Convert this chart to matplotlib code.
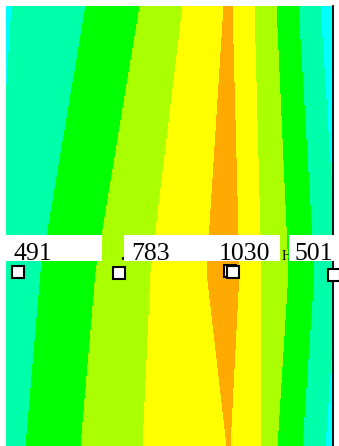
import numpy as np
import matplotlib.pyplot as plt
import matplotlib.tri as mtri
from matplotlib.patches import Rectangle

# contour bands
levels = [250, 400, 550, 700, 850, 1000, 1150]
band_colors = ["#00ffff", "#00ffaa", "#00ff00", "#aaff00", "#ffff00", "#ffaa00"]

# field samples read along three rows (map units = screen pixels)
row_y = [6, 272, 446]
top_x = [-40, 12, 86, 140, 183, 224, 228, 232, 254, 276, 298, 320, 380]
mid_x = [-40, -5, 41, 96, 151, 207, 233, 239, 261, 288, 314, 337, 380]
bot_x = [-40, -15, 26, 81, 143, 227, 228.5, 230, 260, 277, 302, 325, 380]
top_z = [300, 400, 550, 700, 850, 1000, 1020, 1000, 850, 700, 550, 400, 300]
mid_z = [300, 400, 550, 700, 850, 1000, 1030, 1000, 850, 700, 550, 400, 300]
bot_z = [300, 400, 550, 700, 850, 1000, 1005, 1000, 850, 700, 550, 400, 300]

# stations
station_x = [18, 119, 233, 334]
station_y = [272, 273, 272, 275]
station_val = [491, 783, 1030, 501]
hidden_x = [230]
hidden_y = [271]

# label placement
label_x = [13, 131, 219, 295]
box_left = [6, 124, 212, 289]
box_right = [102, 214, 280, 345]

fig = plt.figure(figsize=(3.39, 4.46), dpi=100)
ax = fig.add_axes([6 / 339, 0, 327 / 339, 440 / 446])

# build a row-by-row triangulation of the samples
n = len(top_x)
xs = np.concatenate([top_x, mid_x, bot_x]).astype(float)
ys = np.repeat(row_y, n).astype(float)
zs = np.concatenate([top_z, mid_z, bot_z]).astype(float)
tris = []
for r in range(2):
    for k in range(n - 1):
        a = r * n + k
        b = a + 1
        c = a + n
        d = c + 1
        tris += [[a, b, d], [a, d, c]]
triang = mtri.Triangulation(xs, ys, tris)
ax.tricontourf(triang, zs, levels=levels, colors=band_colors)

ax.set_xlim(6, 333)
ax.set_ylim(446, 6)
ax.set_xticks([])
ax.set_yticks([])
for side in ["top", "left", "bottom"]:
    ax.spines[side].set_visible(False)
ax.spines["right"].set_linewidth(1.3)
ax.spines["right"].set_color("black")

serif = "Liberation Serif"

# stray glyphs partly hidden by the label boxes
ax.text(119.5, 259.5, ".", fontsize=18.5, family=serif, va="baseline",
        zorder=3, clip_on=False)
ax.text(281.5, 260, "H", fontsize=10, family=serif, va="baseline",
        zorder=9, clip_on=False)

for i, val in enumerate(station_val):
    z = 4 + 2 * i if i < 3 else 10
    ax.add_patch(Rectangle((box_left[i], 235), box_right[i] - box_left[i], 26,
                           facecolor="white", edgecolor="none", zorder=z,
                           clip_on=False))
    ax.text(label_x[i], 259.5, str(val), fontsize=18.5, family=serif,
            va="baseline", ha="left", zorder=z + 1, clip_on=False)

ax.plot(hidden_x, hidden_y, "s", ms=8, mfc="white", mec="black", mew=1.5,
        zorder=12, clip_on=False)
ax.plot(station_x, station_y, "s", ms=8, mfc="white", mec="black", mew=1.5,
        zorder=13, clip_on=False)

fig.savefig("out.png", dpi=100)
